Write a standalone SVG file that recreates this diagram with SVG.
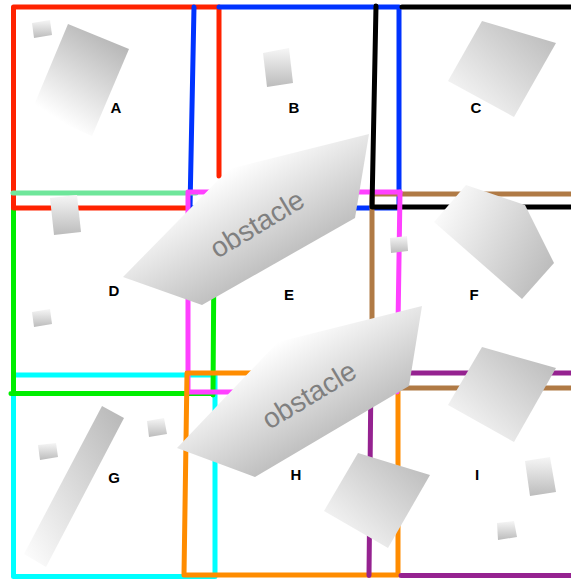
<svg xmlns="http://www.w3.org/2000/svg" width="571" height="579" viewBox="0 0 571 579">
<style>
.ln{fill:none;stroke-width:5;stroke-linecap:round;stroke-linejoin:round}
.lbl{font-family:"Liberation Sans",Arial,sans-serif;font-weight:bold;font-size:15px;fill:#000;text-anchor:middle;dominant-baseline:central}
.obt{font-family:"Liberation Sans",Arial,sans-serif;font-size:28px;fill:#808080;text-anchor:middle;dominant-baseline:central}
</style>
<defs>
<linearGradient id="gd" x1="1" y1="0" x2="0" y2="1"><stop offset="0" stop-color="#b6b6b6"/><stop offset="1" stop-color="#ffffff"/></linearGradient>
<linearGradient id="ga" x1="0.8" y1="0.1" x2="0.35" y2="0.9"><stop offset="0" stop-color="#b6b6b6"/><stop offset="1" stop-color="#ffffff"/></linearGradient>
<linearGradient id="gv" x1="0" y1="0" x2="0" y2="1"><stop offset="0" stop-color="#f6f6f6"/><stop offset="1" stop-color="#bcbcbc"/></linearGradient>
<linearGradient id="gf" gradientUnits="userSpaceOnUse" x1="440" y1="212" x2="550" y2="272"><stop offset="0" stop-color="#fafafa"/><stop offset="1" stop-color="#bcbcbc"/></linearGradient>
<linearGradient id="go1" gradientUnits="userSpaceOnUse" x1="229" y1="169" x2="281.5" y2="260"><stop offset="0" stop-color="#ffffff"/><stop offset="1" stop-color="#c0c0c0"/></linearGradient>
<linearGradient id="go2" gradientUnits="userSpaceOnUse" x1="278" y1="342" x2="330.5" y2="433"><stop offset="0" stop-color="#ffffff"/><stop offset="1" stop-color="#c0c0c0"/></linearGradient>
</defs>
<rect width="571" height="579" fill="#fff"/>
<g id="connectors">
<rect id="G-border" class="ln" x="13.5" y="375" width="201.5" height="201.5" stroke="#00ffff"/>
<path id="D-border" class="ln" stroke="#00ee00" d="M13.5,193 V393.5 M11,393.5 H213 M214,250 L213,395"/>
<path id="A-border" class="ln" stroke="#ff2200" d="M188,208 H13.5 V7 H219 V176"/>
<path id="B-border" class="ln" stroke="#0033ff" d="M219,7 H399 V208 H190 L194,7"/>
<path id="D-top" class="ln" stroke="#6ee69a" d="M13,193 H196"/>
<path id="F-border" class="ln" stroke="#b07a45" d="M578,194 H372 V388 H578"/>
<path id="E-border" class="ln" stroke="#ff40ff" d="M245,392 H188 V192 H400"/>
<path id="C-border" class="ln" stroke="#000" d="M402,7 H578 M376,6 L372,207 H578"/>
<path id="H-border" class="ln" stroke="#ff8c00" d="M187,373 H398 V575 H184 Z"/>
<path id="I-border" class="ln" stroke="#952290" d="M578,373 H371 L369,575.5 M401,575.5 H578"/>
<path id="E-right" class="ln" stroke="#ff40ff" d="M400,192 L397,392"/>
</g>
<g id="A">
<polygon points="68,24 129,49 92,136 32,110" fill="url(#ga)"/>
<polygon points="32,23 50,20 52,35 34,38" fill="url(#gv)"/>
<text class="lbl" x="116" y="107">A</text>
</g>
<g id="B">
<polygon points="263,53 289,48 293,83 267,87" fill="url(#gv)"/>
<text class="lbl" x="294" y="107">B</text>
</g>
<g id="C">
<polygon points="482,21 556,43 514,117 448,81" fill="url(#gd)"/>
<text class="lbl" x="476" y="107">C</text>
</g>
<g id="D">
<polygon points="50,198 77,195 81,232 54,235" fill="url(#gv)"/>
<polygon points="32,312 50,309 52,324 34,327" fill="url(#gv)"/>
<text class="lbl" x="114" y="290">D</text>
</g>
<g id="E">
<text class="lbl" x="289" y="294">E</text>
</g>
<g id="F">
<polygon points="390,238 407,236 408,251 391,253" fill="url(#gv)"/>
<polygon points="466,185 525,205 554,263 522,299 434,222" fill="url(#gf)"/>
<text class="lbl" x="474" y="294">F</text>
</g>
<g id="G">
<polygon points="102,406 124,418 46,567 24,554" fill="url(#gd)"/>
<polygon points="38,445 56,443 58,457 40,460" fill="url(#gv)"/>
<polygon points="147,421 164,418 167,434 149,437" fill="url(#gv)"/>
<text class="lbl" x="114" y="477">G</text>
</g>
<g id="H">
<polygon points="358,453 430,475 388,548 324,511" fill="url(#gd)"/>
<text class="lbl" x="296" y="474">H</text>
</g>
<g id="I">
<polygon points="482,347 556,368 514,442 448,405" fill="url(#gd)"/>
<polygon points="525,461 550,457 556,492 530,496" fill="url(#gv)"/>
<polygon points="497,523 514,521 517,537 498,540" fill="url(#gv)"/>
<text class="lbl" x="477" y="474">I</text>
</g>
<g id="obstacle1">
<polygon points="229,169 369,134 355,218 202,305 123,277" fill="url(#go1)"/>
<text class="obt" transform="translate(257,224) rotate(-31)">obstacle</text>
</g>
<g id="obstacle2">
<polygon points="278,342 422,306 409,386 255,477 177,448" fill="url(#go2)"/>
<text class="obt" transform="translate(309,395) rotate(-31)">obstacle</text>
</g>
</svg>
